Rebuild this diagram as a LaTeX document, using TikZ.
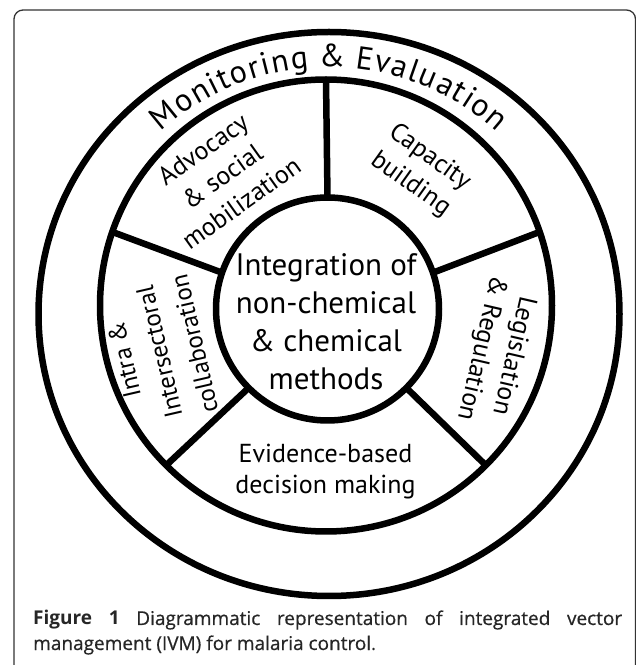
\documentclass[tikz,border=0pt]{standalone}
\usepackage{fontspec}
\setmainfont{PT Sans}
\newfontfamily\capfont{Open Sans}
\newfontfamily\capbody{Open Sans}[FakeBold=0.6]
\usetikzlibrary{shapes.geometric,decorations.text}
\begin{document}
\begin{tikzpicture}[x=1pt,y=1pt,
  thickline/.style={draw=black, line width=6.5pt, inner sep=0pt, outer sep=0pt},
  spoke/.style={draw=black, line width=6.5pt},
  sector/.style={align=center, inner sep=0pt, font=\fontsize{26}{33}\selectfont},
  hub/.style={align=center, inner sep=0pt, font=\fontsize{31}{38}\selectfont},
  capline/.style={anchor=base west, inner sep=0pt, text=black!85, font=\capbody\fontsize{19}{24}\selectfont}
]
\useasboundingbox (0,0) rectangle (636,665);
\begin{scope}
\clip (0,0) rectangle (636,665);
\draw[line width=1.3pt, draw=black!80, rounded corners=9pt] (14,-30) rectangle (635.5,655);
\end{scope}
% rings
\node[thickline, ellipse, minimum width=581pt, minimum height=564pt] (outer) at (329,351) {};
\node[thickline, circle, minimum size=452pt] (ring) at (326,359.5) {};
\node[thickline, circle, minimum size=223pt] (core) at (327.5,356) {};
% spokes
\foreach \a in {90,19,-45,-135,161} \draw[spoke] (core.\a) -- (ring.\a);
% arc title
\path[decorate, decoration={text along path, text align=center,
  text={|\fontsize{32}{32}\selectfont|{M\kern1.5pt}{o\kern1.5pt}{n\kern1.5pt}{i\kern1.5pt}{t\kern1.5pt}{o\kern1.5pt}{r\kern1.5pt}{i\kern1.5pt}{n\kern1.5pt}{g\kern1.5pt} {\&\kern1.5pt} {E\kern1.5pt}{v\kern1.5pt}{a\kern1.5pt}{l\kern1.5pt}{u\kern1.5pt}{a\kern1.5pt}{t\kern1.5pt}{i\kern1.5pt}{o\kern1.5pt}{n}}}]
  (137.5,508.7) arc[start angle=140, end angle=40, radius=250pt];
% sector texts
\node[sector, rotate=35.5] (advo) at (222,489) {Advocacy\\\& social\\mobilization};
\node[sector, rotate=-35.5] (capa) at (420,494) {Capacity\\building};
\node[sector, rotate=-103] (legi) at (497,313) {Legislation\\\& Regulation};
\node[sector, rotate=103, font=\fontsize{25}{36}\selectfont] (intra) at (159,313) {Intra \&\\Intersectoral\\collaboration};
\node[sector, font=\fontsize{26}{31}\selectfont] (evid) at (325.5,193) {Evidence-based\\decision making};
\node[hub] (hubtext) at (326,343) {Integration of\\non-chemical\\\& chemical\\methods};
% caption
\node[capline] (cap1) at (33,40) {\makebox[589pt][s]{{\capfont\bfseries Figure 1} Diagrammatic representation of integrated vector}};
\node[capline] (cap2) at (33,15) {management (IVM) for malaria control{\capfont .}};
\end{tikzpicture}
\end{document}
